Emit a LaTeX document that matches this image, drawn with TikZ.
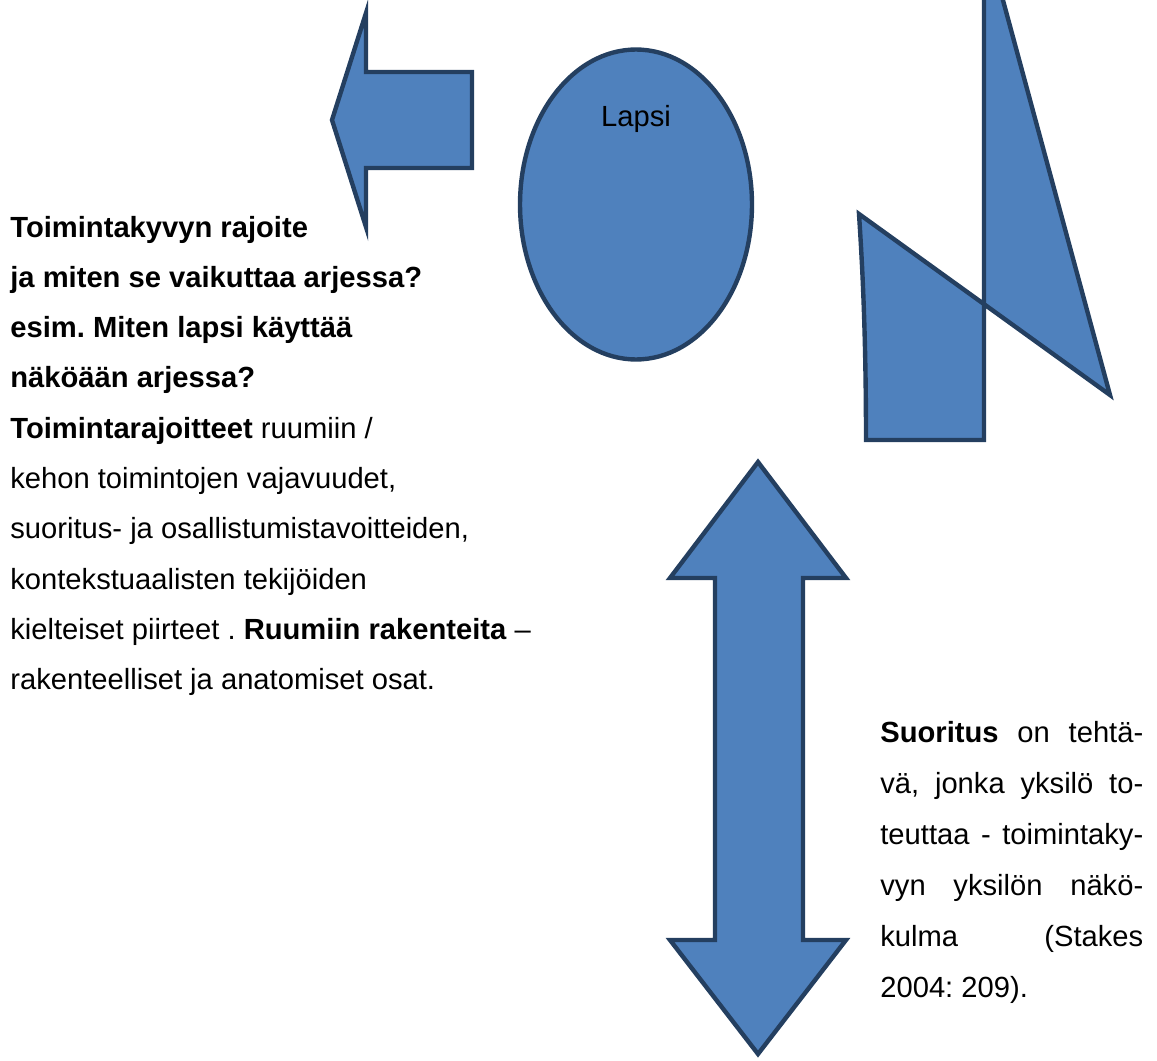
\documentclass[tikz,border=0pt]{standalone}
\usepackage{fontspec}
\setmainfont{Liberation Sans}
\definecolor{shapefill}{HTML}{4F81BD}
\definecolor{shapeline}{HTML}{243F60}
\begin{document}
\frenchspacing
\begin{tikzpicture}[x=0.02cm,y=-0.02cm,
  blueshape/.style={fill=shapefill,draw=shapeline,line width=2.5pt,line join=miter},
  txt/.style={anchor=base west,inner sep=0pt,font=\fontsize{16.6}{19}\selectfont},
  jline/.style={txt}]
\useasboundingbox (0,0) rectangle (1157,1061);
\begin{scope}
\clip (0,0) rectangle (1157,1061);
% left arrow
\draw[blueshape] (332,120) -- (366,13) -- (366,72) -- (472,72) -- (472,168) -- (366,168) -- (366,227) -- cycle;
% ellipse
\draw[blueshape] (636,204.5) ellipse [x radius=2.32cm, y radius=3.1cm];
% Z shape
\draw[blueshape] (984,-20) -- (984,440) -- (866,440) .. controls (866,330) and (862,260) .. (859,214) -- (1110,395) -- (997.5,-20) -- cycle;
% double arrow
\draw[blueshape] (758,462) -- (846,578) -- (803,578) -- (803,940) -- (846,940) -- (758,1054) -- (670,940) -- (715,940) -- (715,578) -- (670,578) -- cycle;
\end{scope}

\node[inner sep=0pt,font=\fontsize{16.6}{19}\selectfont] (lapsi) at (636,119) {Lapsi};

% left text
\node[txt] (l1) at (10,237) {\textbf{Toimintakyvyn rajoite}};
\node[txt] (l2) at (10,287.3) {\textbf{ja miten se vaikuttaa arjessa?}};
\node[txt] (l3) at (10,337.6) {\textbf{esim. Miten lapsi käyttää}};
\node[txt] (l4) at (10,387.9) {\textbf{näköään arjessa?}};
\node[txt] (l5) at (10,438.2) {\textbf{Toimintarajoitteet} ruumiin /};
\node[txt] (l6) at (10,488.5) {kehon toimintojen vajavuudet,};
\node[txt] (l7) at (10,538.8) {suoritus- ja osallistumistavoitteiden,};
\node[txt] (l8) at (10,589.1) {kontekstuaalisten tekijöiden};
\node[txt] (l9) at (10,639.4) {kielteiset piirteet . \textbf{Ruumiin rakenteita} –};
\node[txt] (l10) at (10,689.7) {rakenteelliset ja anatomiset osat.};

% right text
\node[jline] (r1) at (880,742) {\makebox[5.26cm][s]{\textbf{Suoritus} on tehtä-}};
\node[jline] (r2) at (880,793) {\makebox[5.26cm][s]{vä, jonka yksilö to-}};
\node[jline] (r3) at (880,844) {\makebox[5.26cm][s]{teuttaa - toimintaky-}};
\node[jline] (r4) at (880,895) {\makebox[5.26cm][s]{vyn yksilön näkö-}};
\node[jline] (r5) at (880,946) {\makebox[5.26cm][s]{kulma (Stakes}};
\node[jline] (r6) at (880,997) {2004: 209).};
\end{tikzpicture}
\end{document}
